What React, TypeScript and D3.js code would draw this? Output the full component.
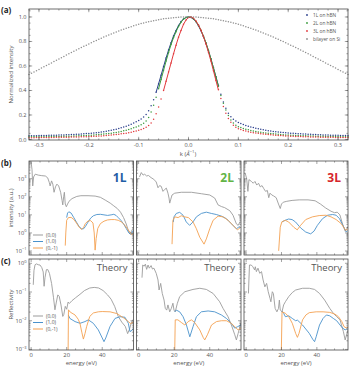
import React from 'react';
import * as d3 from 'd3';

type Pt = [number, number];

const FONT = "'Open Sans', 'DejaVu Sans', sans-serif";
const INK = '#555';
const FRAME = '#4a4a4a';

// ---------------- (a) momentum-distribution profiles ----------------
// sampled on a uniform k grid from -0.32 to 0.32 Å^-1 (step 0.005)
const K_START = -0.32;
const K_STEP = 0.005;

const oneLonHBN = [
  0.030, 0.030, 0.031, 0.031, 0.032, 0.032, 0.033, 0.033, 0.034, 0.034,
  0.035, 0.035, 0.036, 0.036, 0.037, 0.038, 0.039, 0.040, 0.041, 0.042,
  0.043, 0.045, 0.046, 0.048, 0.049, 0.051, 0.053, 0.055, 0.058, 0.061,
  0.064, 0.067, 0.071, 0.075, 0.079, 0.084, 0.089, 0.095, 0.101, 0.108,
  0.116, 0.125, 0.134, 0.144,
  0.155, 0.168, 0.183, 0.205, 0.235, 0.275, 0.325, 0.385, 0.455, 0.525,
  0.595, 0.665, 0.730, 0.790, 0.845, 0.890, 0.930, 0.962, 0.984, 0.996,
  1.000,
  0.996, 0.983, 0.961, 0.928, 0.887, 0.840, 0.785, 0.724, 0.657, 0.585,
  0.512, 0.440, 0.370, 0.307, 0.255, 0.215, 0.185, 0.165, 0.150, 0.138,
  0.130, 0.122, 0.115, 0.108, 0.102, 0.097, 0.092, 0.087, 0.083, 0.079,
  0.075, 0.072, 0.069, 0.066, 0.063, 0.061, 0.059, 0.057, 0.055, 0.053,
  0.051, 0.050, 0.048, 0.047, 0.046, 0.045, 0.044, 0.043, 0.042, 0.041,
  0.040, 0.039, 0.038, 0.037, 0.037, 0.036, 0.035, 0.035, 0.034, 0.034,
  0.033, 0.033, 0.032, 0.032,
];

const twoLonHBN = [
  0.022, 0.022, 0.022, 0.022, 0.023, 0.023, 0.023, 0.023, 0.024, 0.024,
  0.024, 0.025, 0.025, 0.025, 0.026, 0.026, 0.027, 0.027, 0.028, 0.029,
  0.030, 0.031, 0.032, 0.033, 0.034, 0.035, 0.037, 0.038, 0.040, 0.042,
  0.044, 0.046, 0.049, 0.052, 0.055, 0.058, 0.062, 0.066, 0.071, 0.076,
  0.082, 0.088, 0.095, 0.102,
  0.110, 0.120, 0.132, 0.150, 0.180, 0.225, 0.280, 0.345, 0.415, 0.490,
  0.565, 0.640, 0.710, 0.775, 0.832, 0.880, 0.922, 0.957, 0.982, 0.996,
  1.000,
  0.997, 0.985, 0.963, 0.932, 0.892, 0.845, 0.790, 0.727, 0.658, 0.585,
  0.510, 0.435, 0.360, 0.295, 0.240, 0.195, 0.160, 0.135, 0.117, 0.104,
  0.097, 0.090, 0.084, 0.079, 0.074, 0.070, 0.066, 0.062, 0.059, 0.056,
  0.053, 0.050, 0.048, 0.046, 0.044, 0.042, 0.040, 0.039, 0.037, 0.036,
  0.035, 0.034, 0.033, 0.032, 0.031, 0.030, 0.030, 0.029, 0.028, 0.028,
  0.027, 0.027, 0.026, 0.026, 0.025, 0.025, 0.025, 0.024, 0.024, 0.024,
  0.023, 0.023, 0.023, 0.023,
];

const threeLonHBN = [
  0.015, 0.015, 0.015, 0.016, 0.016, 0.016, 0.016, 0.017, 0.017, 0.017,
  0.017, 0.018, 0.018, 0.018, 0.018, 0.019, 0.019, 0.020, 0.020, 0.021,
  0.021, 0.022, 0.022, 0.023, 0.024, 0.025, 0.026, 0.027, 0.028, 0.029,
  0.031, 0.032, 0.034, 0.036, 0.038, 0.040, 0.043, 0.046, 0.049, 0.052,
  0.056, 0.060, 0.065, 0.070,
  0.075, 0.082, 0.090, 0.100, 0.115, 0.135, 0.165, 0.210, 0.265, 0.330,
  0.400, 0.475, 0.550, 0.625, 0.700, 0.770, 0.835, 0.890, 0.940, 0.975,
  0.995,
  1.000, 0.990, 0.968, 0.935, 0.892, 0.840, 0.780, 0.713, 0.640, 0.562,
  0.482, 0.405, 0.335, 0.270, 0.215, 0.172, 0.140, 0.117, 0.100, 0.088,
  0.081, 0.074, 0.069, 0.064, 0.060, 0.056, 0.053, 0.050, 0.047, 0.045,
  0.042, 0.040, 0.038, 0.036, 0.035, 0.033, 0.032, 0.030, 0.029, 0.028,
  0.027, 0.026, 0.025, 0.024, 0.024, 0.023, 0.022, 0.022, 0.021, 0.021,
  0.020, 0.020, 0.019, 0.019, 0.019, 0.018, 0.018, 0.018, 0.017, 0.017,
  0.017, 0.017, 0.016, 0.016,
];

const bilayerOnSi = [
  0.530, 0.540, 0.551, 0.561, 0.572, 0.583, 0.593, 0.604, 0.614, 0.625,
  0.636, 0.646, 0.657, 0.668, 0.678, 0.689, 0.699, 0.710, 0.720, 0.730,
  0.740, 0.750, 0.760, 0.770, 0.780, 0.789, 0.799, 0.808, 0.818, 0.827,
  0.836, 0.845, 0.853, 0.861, 0.870, 0.878, 0.885, 0.893, 0.900, 0.908,
  0.915, 0.921, 0.928, 0.934, 0.940, 0.946, 0.951, 0.956, 0.961, 0.966,
  0.970, 0.974, 0.978, 0.981, 0.985, 0.988, 0.990, 0.992, 0.994, 0.996,
  0.998, 0.999, 0.999, 1.000,
  1.000,
  1.000, 0.999, 0.999, 0.998, 0.996, 0.994, 0.992, 0.990, 0.988, 0.985,
  0.981, 0.978, 0.974, 0.970, 0.966, 0.961, 0.956, 0.951, 0.946, 0.940,
  0.934, 0.928, 0.921, 0.915, 0.908, 0.900, 0.893, 0.885, 0.878, 0.870,
  0.861, 0.853, 0.845, 0.836, 0.827, 0.818, 0.808, 0.799, 0.789, 0.780,
  0.770, 0.760, 0.750, 0.740, 0.730, 0.720, 0.710, 0.699, 0.689, 0.678,
  0.668, 0.657, 0.646, 0.636, 0.625, 0.614, 0.604, 0.593, 0.583, 0.572,
  0.561, 0.551, 0.540, 0.530,
];

const profileSeries = [
  { name: '1L on hBN', color: '#2a3e8c', values: oneLonHBN, core: true },
  { name: '2L on hBN', color: '#3a9b3c', values: twoLonHBN, core: true },
  { name: '3L on hBN', color: '#e2383c', values: threeLonHBN, core: true },
  { name: 'bilayer on Si', color: '#8e8e8e', values: bilayerOnSi, core: false },
];

const kTickLabels = ['-0.3', '-0.2', '-0.1', '0.0', '0.1', '0.2', '0.3'];
const kTicks = [-0.3, -0.2, -0.1, 0, 0.1, 0.2, 0.3];
const normTicks = [0, 0.2, 0.4, 0.6, 0.8, 1.0];

// ---------------- (b) measured LEED-IV spectra: [energy eV, log10 intensity] ----------------
const exp1L_00: Pt[] = [
  [0.0, 3.92], [0.5, 3.5], [0.9, 2.6], [1.4, 3.1], [2.3, 3.25], [4.0, 3.2], [6.0, 3.17],
  [8.0, 3.15], [9.3, 3.05], [10.2, 2.8], [10.7, 2.6], [11.5, 2.88], [12.2, 2.7], [12.9, 2.25],
  [13.7, 2.55], [14.5, 2.7], [15.5, 2.6], [16.6, 2.25], [17.4, 1.8], [17.8, 1.55], [18.3, 2.0],
  [18.7, 2.25], [19.2, 1.6], [19.8, 1.45], [20.5, 1.6], [21.3, 1.75], [23.0, 1.9], [25.7, 2.02],
  [28.0, 2.06], [32.0, 2.06], [36.0, 2.04], [39.0, 1.97], [42.0, 1.8], [44.5, 1.65], [46.5, 1.5],
  [48.5, 1.35], [50.3, 1.15], [52.0, 0.85], [53.5, 0.5], [54.8, 0.1], [55.6, -0.05], [56.5, 0.1],
  [57.5, 0.3],
];
const exp1L_10: Pt[] = [
  [20.0, 0.85], [20.5, 1.1], [21.2, 1.17], [22.5, 1.1], [24.0, 0.85], [25.5, 0.6], [27.0, 0.35],
  [28.5, 0.22], [29.5, 0.23], [30.5, 0.35], [32.0, 0.6], [33.5, 0.82], [35.0, 0.95], [37.0, 1.02],
  [39.0, 1.03], [41.0, 1.0], [43.0, 0.97], [45.0, 1.0], [46.5, 1.03], [47.8, 0.97], [49.0, 0.85],
  [50.5, 0.7], [52.0, 0.5], [53.5, 0.25], [55.0, 0.0], [56.0, -0.08], [57.0, 0.05], [57.5, 0.15],
];
const exp1L_01: Pt[] = [
  [19.2, -0.7], [19.5, 0.0], [20.0, 0.7], [21.0, 0.85], [22.5, 0.86], [24.0, 0.75], [25.5, 0.55],
  [27.0, 0.32], [28.3, 0.2], [29.5, 0.3], [30.5, 0.52], [32.0, 0.66], [33.5, 0.68], [34.8, 0.55],
  [35.5, 0.0], [36.0, -0.95], [36.6, -0.3], [37.5, 0.25], [39.0, 0.52], [41.0, 0.65], [43.0, 0.72],
  [45.0, 0.74], [47.0, 0.74], [49.0, 0.7], [51.0, 0.6], [52.5, 0.45], [54.0, 0.25], [55.5, 0.05],
  [56.5, -0.1], [57.5, 0.0],
];

const exp2L_00: Pt[] = [
  [0.5, 3.1], [1.5, 3.34], [2.5, 3.2], [3.4, 3.25], [4.5, 3.15], [5.5, 3.18], [7.0, 3.06],
  [8.5, 2.97], [9.9, 2.82], [10.9, 2.5], [11.8, 2.62], [12.7, 2.58], [13.7, 2.3], [14.6, 2.4],
  [15.6, 2.48], [16.5, 2.2], [17.1, 1.93], [17.5, 1.65], [18.0, 1.83], [18.8, 2.1], [20.3, 2.2],
  [24.0, 2.25], [29.7, 2.25], [35.3, 2.17], [40.0, 2.1], [42.8, 1.93], [44.7, 1.55], [46.6, 1.46],
  [48.4, 1.4], [51.3, 1.23], [53.1, 0.98], [55.0, 0.5], [56.0, 0.42], [57.0, 0.6],
];
const exp2L_10: Pt[] = [
  [19.5, 0.6], [19.9, 0.89], [21.2, 1.08], [23.1, 1.14], [25.0, 0.98], [26.8, 0.61], [28.7, 0.42],
  [30.6, 0.61], [32.5, 0.89], [35.3, 1.08], [38.1, 1.15], [40.9, 1.08], [43.7, 1.02], [46.6, 0.93],
  [49.4, 0.79], [52.2, 0.51], [55.0, 0.23], [56.3, 0.32], [57.0, 0.35],
];
const exp2L_01: Pt[] = [
  [18.8, -0.62], [19.3, 0.7], [20.3, 0.89], [22.2, 0.85], [24.0, 0.95], [25.9, 0.89], [28.0, 0.85],
  [30.6, 0.61], [32.5, 0.23], [34.4, -0.24], [36.8, -0.62], [38.1, -0.33], [40.0, 0.23], [41.9, 0.7],
  [44.7, 0.93], [47.5, 0.89], [50.3, 0.7], [53.1, 0.42], [55.6, 0.17], [57.0, 0.28],
];

const exp3L_00: Pt[] = [
  [-0.5, 3.3], [0.3, 3.0], [1.0, 2.3], [1.6, 2.95], [3.0, 2.85], [4.0, 2.75], [5.0, 2.85],
  [6.0, 2.65], [7.0, 2.75], [8.0, 2.55], [9.0, 2.62], [10.0, 2.45], [11.0, 2.3], [12.0, 2.35],
  [12.8, 1.95], [13.5, 2.2], [14.5, 2.1], [15.5, 2.05], [17.0, 1.95], [18.3, 1.6], [19.3, 1.35],
  [20.0, 1.6], [21.0, 1.7], [23.0, 1.75], [26.0, 1.8], [30.0, 1.83], [35.0, 1.83], [39.0, 1.78],
  [42.0, 1.6], [45.0, 1.38], [48.0, 1.2], [50.0, 1.12], [51.5, 1.15], [53.0, 1.0], [54.5, 0.5],
  [56.0, 0.1], [57.0, 0.25], [57.5, 0.35],
];
const exp3L_10: Pt[] = [
  [20.2, 0.61], [22.1, 0.7], [24.0, 0.77], [26.0, 0.74], [27.9, 0.61], [30.8, 0.28], [33.7, 0.05],
  [36.5, -0.05], [38.4, 0.1], [40.3, 0.42], [43.2, 0.79], [46.1, 0.98], [48.9, 1.02], [50.9, 0.98],
  [52.8, 0.79], [54.7, 0.42], [56.6, 0.05], [57.5, 0.14],
];
const exp3L_01: Pt[] = [
  [18.4, -0.99], [19.3, 0.32], [20.2, 0.61], [22.1, 0.7], [24.0, 0.61], [26.9, 0.32], [28.9, 0.17],
  [30.8, 0.42], [33.7, 0.74], [37.5, 0.89], [41.3, 0.96], [45.1, 0.98], [48.0, 0.89], [50.9, 0.74],
  [53.8, 0.51], [56.3, 0.14], [57.5, 0.23],
];

// ---------------- (c) calculated reflectivity: [energy eV, log10 R] ----------------
const thy1L_00: Pt[] = [
  [1.2, -0.75], [1.6, -0.25], [2.2, -0.05], [3.0, -0.02], [4.0, -0.05], [5.0, -0.06], [6.0, -0.15],
  [6.8, -0.3], [7.3, -0.8], [7.8, -0.5], [8.6, -0.22], [9.4, -0.22], [10.3, -0.35], [11.5, -0.7],
  [12.6, -1.2], [13.4, -1.62], [14.2, -1.35], [15.0, -1.1], [15.8, -1.15], [16.8, -1.45],
  [17.8, -1.85], [18.4, -1.78], [19.2, -1.5], [20.0, -1.6], [20.8, -1.35], [21.5, -1.4],
  [23.0, -1.3], [25.0, -1.2], [27.5, -1.08], [30.0, -0.95], [33.0, -0.86], [35.5, -0.84],
  [38.0, -0.86], [40.5, -0.95], [43.0, -1.1], [45.0, -1.25], [47.0, -1.5], [49.0, -1.85],
  [51.0, -2.05], [53.0, -2.2], [54.3, -2.45], [55.3, -2.3], [56.5, -2.05], [57.5, -1.95],
];
const thy1L_10: Pt[] = [
  [20.9, -1.8], [21.8, -1.92], [24.7, -2.03], [27.5, -2.09], [30.3, -2.03], [32.2, -1.97],
  [35.0, -2.09], [37.8, -2.32], [40.0, -2.6], [41.0, -2.73], [42.0, -2.6], [44.4, -2.2],
  [47.2, -1.92], [50.0, -1.86], [52.8, -1.88], [54.7, -2.09], [55.6, -2.38], [57.1, -2.32],
  [57.5, -2.26],
];
const thy1L_01: Pt[] = [
  [20.8, -3.1], [21.0, -1.62], [22.0, -1.7], [24.7, -1.8], [26.5, -1.95], [27.5, -2.1], [28.5, -2.4],
  [29.4, -2.64], [30.3, -2.45], [31.2, -2.21], [33.0, -1.85], [35.0, -1.73], [37.8, -1.69],
  [40.0, -1.68], [44.4, -1.69], [48.2, -1.75], [52.0, -1.9], [54.7, -2.03], [56.0, -2.1],
  [57.5, -2.05],
];

const thy2L_00: Pt[] = [
  [1.9, -0.5], [2.3, -0.06], [3.1, -0.1], [3.8, -0.03], [4.5, -0.21], [5.3, -0.06], [6.0, -0.17],
  [7.0, -0.08], [7.8, -0.2], [8.6, -0.17], [9.9, -0.35], [10.9, -0.58], [11.5, -0.93], [12.4, -0.7],
  [13.3, -1.05], [14.3, -1.28], [15.0, -1.57], [15.8, -1.63], [16.5, -1.45], [17.5, -1.69],
  [18.4, -1.57], [19.3, -1.39], [19.9, -1.63], [20.6, -1.69], [21.8, -1.39], [23.1, -1.16],
  [26.0, -0.99], [30.6, -0.91], [34.4, -0.87], [38.1, -0.91], [41.9, -1.05], [45.6, -1.34],
  [47.5, -1.57], [50.3, -1.86], [52.2, -2.15], [54.1, -2.49], [55.0, -2.67], [56.0, -2.44],
  [57.5, -2.09],
];
const thy2L_10: Pt[] = [
  [20.3, -1.69], [21.2, -1.63], [23.1, -1.69], [25.0, -1.86], [26.9, -2.15], [28.8, -2.56],
  [30.6, -2.21], [32.5, -1.86], [35.3, -1.69], [39.1, -1.66], [42.8, -1.69], [46.6, -1.8],
  [49.4, -1.92], [52.2, -2.09], [54.1, -2.26], [55.6, -2.21], [57.5, -2.15],
];
const thy2L_01: Pt[] = [
  [20.3, -3.1], [20.6, -1.97], [22.1, -1.97], [24.0, -2.06], [26.0, -2.15], [27.9, -2.03],
  [29.7, -1.97], [31.5, -2.06], [34.4, -2.32], [36.3, -2.58], [37.2, -2.67], [38.7, -2.49],
  [41.0, -2.15], [43.8, -2.03], [46.6, -2.0], [49.4, -2.0], [52.2, -2.09], [54.1, -2.21],
  [56.0, -2.32], [57.5, -2.26],
];

const thy3L_00: Pt[] = [
  [1.3, -1.05], [1.9, -0.06], [2.9, -0.06], [3.8, -0.12], [4.8, -0.23], [5.2, -0.12], [5.8, -0.29],
  [6.7, -0.17], [7.7, -0.35], [8.7, -0.29], [9.6, -0.58], [10.6, -0.82], [11.6, -0.7], [12.5, -0.99],
  [13.5, -1.22], [14.0, -1.34], [14.8, -0.99], [15.4, -1.05], [16.4, -1.57], [17.4, -1.69],
  [18.3, -1.57], [18.8, -1.28], [19.3, -1.63], [20.3, -1.69], [21.2, -1.45], [22.2, -1.34],
  [24.1, -1.16], [26.1, -1.02], [28.0, -0.93], [31.9, -0.87], [35.7, -0.87], [38.7, -0.91],
  [41.5, -1.05], [44.4, -1.28], [47.3, -1.57], [49.3, -1.74], [51.2, -1.86], [53.1, -1.97],
  [55.0, -2.38], [56.0, -2.67], [57.0, -2.44], [58.5, -2.15],
];
const thy3L_10: Pt[] = [
  [20.3, -1.66], [21.2, -1.74], [22.2, -1.86], [24.1, -1.83], [26.1, -1.92], [28.0, -2.0],
  [29.0, -1.98], [29.9, -2.03], [31.9, -2.15], [35.7, -2.44], [37.7, -2.65], [38.7, -2.73],
  [39.6, -2.56], [41.5, -2.15], [43.5, -1.92], [45.4, -1.8], [47.3, -1.83], [49.3, -1.92],
  [51.2, -2.0], [53.1, -2.15], [54.6, -2.26], [56.0, -2.32], [57.4, -2.26], [58.5, -2.2],
];
const thy3L_01: Pt[] = [
  [19.9, -3.1], [20.3, -1.69], [22.2, -1.74], [24.1, -1.86], [26.1, -2.09], [28.0, -2.44],
  [29.0, -2.58], [29.9, -2.44], [31.9, -1.97], [33.8, -1.8], [35.7, -1.72], [39.6, -1.69],
  [43.5, -1.69], [47.3, -1.71], [50.2, -1.77], [52.2, -1.86], [54.1, -2.03], [55.4, -2.21],
  [57.0, -2.26], [58.5, -2.15],
];

const beamNames = ['(0,0)', '(1,0)', '(0,-1)'];
const beamColors = ['#9b9b9b', '#4a92cc', '#f4a050'];
const layerLabels = ['1L', '2L', '3L'];
const layerColors = ['#1f5ea6', '#62b446', '#d6262c'];
const energyTicks = [0, 20, 40];

const expSpectra: Pt[][][] = [
  [exp1L_00, exp1L_10, exp1L_01],
  [exp2L_00, exp2L_10, exp2L_01],
  [exp3L_00, exp3L_10, exp3L_01],
];
const thySpectra: Pt[][][] = [
  [thy1L_00, thy1L_10, thy1L_01],
  [thy2L_00, thy2L_10, thy2L_01],
  [thy3L_00, thy3L_10, thy3L_01],
];

// ---------------- layout ----------------
const A_BOX = { x0: 29, x1: 348, y0: 9, y1: 140 };
const B_BOX = { y0: 161, y1: 255 };
const C_BOX = { y0: 259, y1: 350 };
const COLS: [number, number][] = [[29, 133.5], [136.5, 241], [244, 348]];
const E_DOMAIN: [number, number] = [-1.2, 57.6];
const B_LOG: [number, number] = [-1.22, 3.98];
const C_LOG: [number, number] = [-3.02, 0.15];

const supMinus = (e: number) => (e < 0 ? '\u2212' + Math.abs(e) : String(e));

function logTickList(lo: number, hi: number) {
  const out: { v: number; e: number; major: boolean }[] = [];
  for (let e = Math.floor(lo); e <= Math.ceil(hi); e++) {
    for (let m = 1; m <= 9; m++) {
      const lv = e + Math.log10(m);
      if (lv >= lo && lv <= hi) out.push({ v: m * Math.pow(10, e), e, major: m === 1 });
    }
  }
  return out;
}

function Frame({ x0, x1, y0, y1 }: { x0: number; x1: number; y0: number; y1: number }) {
  return <rect x={x0} y={y0} width={x1 - x0} height={y1 - y0} fill="none" stroke={FRAME} strokeWidth={0.8} />;
}

function EnergyPanel({
  col, box, logDom, curves, showYLabels, showXLabels, clipId,
}: {
  col: number; box: { y0: number; y1: number }; logDom: [number, number]; curves: Pt[][];
  showYLabels: boolean; showXLabels: boolean; clipId: string;
}) {
  const [x0, x1] = COLS[col];
  const x = d3.scaleLinear().domain(E_DOMAIN).range([x0, x1]);
  const y = d3.scaleLog().domain([Math.pow(10, logDom[0]), Math.pow(10, logDom[1])]).range([box.y1, box.y0]);
  const line = d3.line<Pt>().x((d) => x(d[0])).y((d) => y(Math.pow(10, d[1])));
  const yt = logTickList(logDom[0], logDom[1]);
  const xt = d3.range(0, 56, 5);
  return (
    <g>
      <clipPath id={clipId}>
        <rect x={x0} y={box.y0} width={x1 - x0} height={box.y1 - box.y0} />
      </clipPath>
      <g clipPath={`url(#${clipId})`}>
        {curves.map((c, i) => (
          <path key={i} d={line(c) || ''} fill="none" stroke={beamColors[i]} strokeWidth={0.9} strokeLinejoin="round" />
        ))}
      </g>
      {yt.map((t, i) => {
        const yy = y(t.v);
        const len = t.major ? 3 : 1.6;
        return (
          <g key={'y' + i} stroke={FRAME} strokeWidth={0.5}>
            <line x1={x0} x2={x0 + len} y1={yy} y2={yy} />
            <line x1={x1} x2={x1 - len} y1={yy} y2={yy} />
          </g>
        );
      })}
      {xt.map((t) => {
        const xx = x(t);
        const len = t % 20 === 0 ? 3 : 1.6;
        return (
          <g key={'x' + t} stroke={FRAME} strokeWidth={0.5}>
            <line x1={xx} x2={xx} y1={box.y1} y2={box.y1 - len} />
            <line x1={xx} x2={xx} y1={box.y0} y2={box.y0 + len} />
          </g>
        );
      })}
      <Frame x0={x0} x1={x1} y0={box.y0} y1={box.y1} />
      {showYLabels &&
        yt.filter((t) => t.major).map((t) => (
          <text key={'yl' + t.e} x={x0 - 2.5} y={y(t.v) + 2} textAnchor="end" fontSize={5.6} fill={INK}>
            10<tspan dy={-2.8} fontSize={4}>{supMinus(t.e)}</tspan>
          </text>
        ))}
      {showXLabels &&
        energyTicks.map((t) => (
          <text key={'xl' + t} x={x(t)} y={box.y1 + 7} textAnchor="middle" fontSize={5.8} fill={INK}>
            {t}
          </text>
        ))}
    </g>
  );
}

function BeamLegend({ x0, yTop }: { x0: number; yTop: number }) {
  return (
    <g>
      {beamNames.map((n, i) => (
        <g key={n}>
          <line x1={x0} x2={x0 + 10} y1={yTop + i * 6.5} y2={yTop + i * 6.5} stroke={beamColors[i]} strokeWidth={1} />
          <text x={x0 + 13} y={yTop + i * 6.5 + 1.8} fontSize={5} fill={INK}>{n}</text>
        </g>
      ))}
    </g>
  );
}

export default function App() {
  const xA = d3.scaleLinear().domain([-0.32, 0.32]).range([A_BOX.x0, A_BOX.x1]);
  const yA = d3.scaleLinear().domain([0, 1.065]).range([139.5, A_BOX.y0]);
  const kOf = (i: number) => K_START + i * K_STEP;
  const peakLine = d3.line<[number, number]>().x((d) => xA(d[0])).y((d) => yA(d[1]));

  const kMinor = d3.range(-0.32, 0.3201, 0.02);
  const vMinor = d3.range(0, 1.06, 0.05);

  return (
    <svg width={355} height={368} style={{ position: 'absolute', left: 0, top: 0, background: '#fff' }} fontFamily={FONT}>
      <rect x={0} y={0} width={355} height={368} fill="#fff" />

      {/* ---------- (a) ---------- */}
      <text x={1} y={13} fontSize={8} fontWeight="bold" fill="#222">(a)</text>
      <g>
        {profileSeries.map((s) => {
          const pts = s.values.map((v, i) => [kOf(i), v] as [number, number]);
          const core = pts.filter((p) => p[1] >= 0.38);
          return (
            <g key={s.name}>
              {s.core && <path d={peakLine(core) || ''} fill="none" stroke={s.color} strokeWidth={1} />}
              {pts.map((p, i) => (
                <circle key={i} cx={xA(p[0])} cy={yA(p[1])} r={0.75} fill={s.color} />
              ))}
            </g>
          );
        })}
      </g>
      {kMinor.map((t, i) => (
        <g key={'km' + i} stroke={FRAME} strokeWidth={0.5}>
          <line x1={xA(t)} x2={xA(t)} y1={A_BOX.y1} y2={A_BOX.y1 - 1.6} />
          <line x1={xA(t)} x2={xA(t)} y1={A_BOX.y0} y2={A_BOX.y0 + 1.6} />
        </g>
      ))}
      {kTicks.map((t, i) => (
        <g key={'k' + i}>
          <line x1={xA(t)} x2={xA(t)} y1={A_BOX.y1} y2={A_BOX.y1 - 3.2} stroke={FRAME} strokeWidth={0.5} />
          <line x1={xA(t)} x2={xA(t)} y1={A_BOX.y0} y2={A_BOX.y0 + 3.2} stroke={FRAME} strokeWidth={0.5} />
          <text x={xA(t)} y={A_BOX.y1 + 7} textAnchor="middle" fontSize={5.6} fill={INK}>{kTickLabels[i]}</text>
        </g>
      ))}
      {vMinor.map((t, i) => (
        <g key={'vm' + i} stroke={FRAME} strokeWidth={0.5}>
          <line x1={A_BOX.x0} x2={A_BOX.x0 + 1.6} y1={yA(t)} y2={yA(t)} />
          <line x1={A_BOX.x1} x2={A_BOX.x1 - 1.6} y1={yA(t)} y2={yA(t)} />
        </g>
      ))}
      {normTicks.map((t) => (
        <g key={'n' + t}>
          <line x1={A_BOX.x0} x2={A_BOX.x0 + 3.2} y1={yA(t)} y2={yA(t)} stroke={FRAME} strokeWidth={0.5} />
          <line x1={A_BOX.x1} x2={A_BOX.x1 - 3.2} y1={yA(t)} y2={yA(t)} stroke={FRAME} strokeWidth={0.5} />
          <text x={A_BOX.x0 - 2.5} y={yA(t) + 2} textAnchor="end" fontSize={5.6} fill={INK}>{t.toFixed(1)}</text>
        </g>
      ))}
      <Frame {...A_BOX} />
      <text transform={`translate(13,${(A_BOX.y0 + A_BOX.y1) / 2}) rotate(-90)`} textAnchor="middle" fontSize={6} fill={INK}>
        Normalized intensity
      </text>
      <text x={188} y={155.5} textAnchor="middle" fontSize={6} fill={INK}>
        k (<tspan fontStyle="italic">Å</tspan><tspan dy={-2.5} fontSize={4.2}>−1</tspan><tspan dy={2.5}>)</tspan>
      </text>
      {profileSeries.map((s, i) => (
        <g key={'lg' + i}>
          <circle cx={307} cy={15 + i * 8} r={0.9} fill={s.color} />
          <text x={313} y={16.8 + i * 8} fontSize={4.8} fill={INK}>{s.name}</text>
        </g>
      ))}

      {/* ---------- (b) ---------- */}
      <text x={1} y={166} fontSize={8} fontWeight="bold" fill="#222">(b)</text>
      {expSpectra.map((curves, c) => (
        <EnergyPanel key={'b' + c} col={c} box={B_BOX} logDom={B_LOG} curves={curves}
          showYLabels={c === 0} showXLabels={false} clipId={'clipB' + c} />
      ))}
      {layerLabels.map((l, c) => (
        <text key={l} x={COLS[c][1] - 7} y={182} textAnchor="end" fontSize={12} fontWeight="bold" fill={layerColors[c]}>
          {l}
        </text>
      ))}
      <BeamLegend x0={33} yTop={235} />
      <text transform={`translate(13,${(B_BOX.y0 + B_BOX.y1) / 2}) rotate(-90)`} textAnchor="middle" fontSize={6} fill={INK}>
        intensity (a.u.)
      </text>

      {/* ---------- (c) ---------- */}
      <text x={1} y={264} fontSize={8} fontWeight="bold" fill="#222">(c)</text>
      {thySpectra.map((curves, c) => (
        <EnergyPanel key={'c' + c} col={c} box={C_BOX} logDom={C_LOG} curves={curves}
          showYLabels={c === 0} showXLabels={true} clipId={'clipC' + c} />
      ))}
      {COLS.map((cx, c) => (
        <g key={'th' + c}>
          <text x={cx[1] - 6} y={271} textAnchor="end" fontSize={9.5} fill="#555">Theory</text>
          <text x={(cx[0] + cx[1]) / 2} y={365} textAnchor="middle" fontSize={6} fill={INK}>energy (eV)</text>
        </g>
      ))}
      <BeamLegend x0={33} yTop={316} />
      <text transform={`translate(13,${(C_BOX.y0 + C_BOX.y1) / 2}) rotate(-90)`} textAnchor="middle" fontSize={6} fill={INK}>
        Reflectivity
      </text>
    </svg>
  );
}
